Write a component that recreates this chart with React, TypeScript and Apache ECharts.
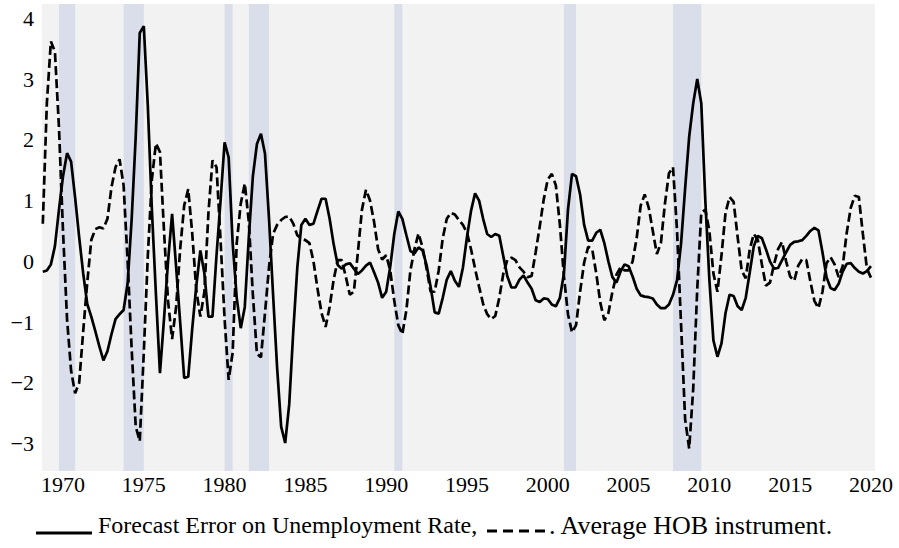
import React, { useEffect, useRef } from "react";
import * as echarts from "echarts";

// Quarterly observations starting 1968Q4 (1968.75), step 0.25 years
const START_YEAR = 1968.75;
const STEP = 0.25;

const forecastError = [
  -0.17,
  -0.15, -0.05, 0.25, 0.85,
  1.4, 1.78, 1.64, 1.05,
  0.4, -0.2, -0.7, -0.91,
  -1.15, -1.4, -1.63, -1.48,
  -1.2, -0.95, -0.87, -0.8,
  -0.36, 0.7, 2.05, 3.76,
  3.87, 2.55, 0.85, -0.54,
  -1.84, -0.95, 0.0, 0.78,
  -0.09, -1.0, -1.92, -1.9,
  -1.1, -0.4, 0.18, -0.2,
  -0.91, -0.91, 0.1, 1.0,
  1.96, 1.71, 0.3, -0.6,
  -1.1, -0.75, 0.4, 1.4,
  1.93, 2.1, 1.77, 0.7,
  -0.55, -1.75, -2.72, -2.99,
  -2.35, -1.15, -0.1, 0.6,
  0.7, 0.6, 0.62, 0.83,
  1.03, 1.03, 0.7, 0.28,
  -0.06, -0.12, -0.05, -0.03,
  -0.12, -0.21, -0.15, -0.07,
  -0.02, -0.18, -0.35, -0.6,
  -0.5, -0.09, 0.45, 0.82,
  0.7, 0.43, 0.17, 0.13,
  0.23, 0.18, -0.06, -0.42,
  -0.84, -0.86, -0.6, -0.3,
  -0.16, -0.32, -0.42, -0.1,
  0.4, 0.83, 1.12, 1.0,
  0.7, 0.45, 0.4, 0.45,
  0.42, 0.08, -0.25, -0.43,
  -0.43, -0.3, -0.23, -0.35,
  -0.45, -0.64, -0.67, -0.61,
  -0.62, -0.71, -0.74, -0.6,
  -0.2, 0.85, 1.44, 1.4,
  1.1, 0.6, 0.34, 0.34,
  0.47, 0.52, 0.3, 0.0,
  -0.26, -0.35, -0.17, -0.05,
  -0.08, -0.25, -0.45, -0.56,
  -0.58, -0.59, -0.61, -0.71,
  -0.77, -0.77, -0.71, -0.55,
  -0.31, 0.3, 1.2, 2.05,
  2.6, 3.0, 2.6, 1.0,
  -0.3, -1.3, -1.57, -1.35,
  -0.85, -0.55, -0.57, -0.74,
  -0.8, -0.6, -0.18, 0.25,
  0.42, 0.38, 0.2, 0.0,
  -0.12, -0.11, 0.02, 0.15,
  0.27, 0.32, 0.33, 0.35,
  0.42, 0.5, 0.55, 0.51,
  0.15, -0.26, -0.44, -0.47,
  -0.37, -0.17, -0.04, -0.03,
  -0.11, -0.17, -0.2, -0.16,
  -0.08,
];

const hobInstrument = [
  0.62,
  2.6, 3.62, 3.45, 2.2,
  0.5, -0.95, -1.8, -2.17,
  -2.0, -1.15, -0.35, 0.35,
  0.53, 0.56, 0.54, 0.7,
  1.22, 1.55, 1.68, 1.25,
  0.0, -1.45, -2.72, -2.96,
  -1.5, 0.1, 1.35, 1.94,
  1.8, 0.5, -0.65, -1.28,
  -0.75, 0.2, 0.92, 1.19,
  0.45, -0.48, -0.91, -0.5,
  0.8, 1.66, 1.55, 0.35,
  -0.95, -1.95, -1.5, 0.3,
  0.95, 1.28, 0.65, -0.55,
  -1.52, -1.58, -0.85, -0.09,
  0.45, 0.6, 0.68, 0.73,
  0.74, 0.62, 0.43, 0.37,
  0.35, 0.3, 0.0, -0.45,
  -0.85, -1.08, -0.75, -0.3,
  0.02, 0.02, -0.25, -0.55,
  -0.5, 0.15, 0.85, 1.18,
  1.0, 0.65, 0.2, 0.03,
  0.1, -0.15, -0.65, -1.05,
  -1.2, -0.8, -0.15, 0.2,
  0.46, 0.23, -0.12, -0.5,
  -0.5, -0.15, 0.38, 0.7,
  0.8, 0.77, 0.68, 0.6,
  0.47, 0.2, -0.12, -0.42,
  -0.7, -0.87, -0.95, -0.9,
  -0.6, -0.2, 0.03, 0.06,
  0.02, -0.1, -0.17, -0.26,
  -0.24, 0.15, 0.57, 1.02,
  1.35, 1.44, 1.25, 0.6,
  -0.25, -0.87, -1.17, -1.05,
  -0.5, -0.02, 0.24, 0.2,
  -0.2, -0.68, -0.97, -0.85,
  -0.5, -0.22, -0.1, -0.15,
  -0.15, 0.0, 0.38, 0.92,
  1.1, 0.88, 0.5, 0.12,
  0.3, 0.95, 1.45, 1.55,
  0.5, -1.05, -2.6, -3.08,
  -2.1, -0.45, 0.8, 0.85,
  0.5, -0.2, -0.5, 0.1,
  0.8, 1.06, 0.98, 0.4,
  -0.15, -0.28, 0.2, 0.45,
  0.35, -0.05, -0.4, -0.35,
  -0.05, 0.2, 0.32, 0.0,
  -0.25, -0.32, -0.07, 0.04,
  0.02, -0.33, -0.65, -0.77,
  -0.5, -0.03, 0.07, -0.05,
  -0.26, -0.08, 0.47, 0.88,
  1.08, 1.06, 0.45, -0.12,
  -0.27,
];

// NBER recessions (start, end) in fractional years
const recessions: [number, number][] = [
  [1969.75, 1970.75],
  [1973.75, 1975.0],
  [1980.0, 1980.5],
  [1981.5, 1982.75],
  [1990.5, 1991.0],
  [2001.0, 2001.75],
  [2007.75, 2009.5],
];

const xTickValues = [1970, 1975, 1980, 1985, 1990, 1995, 2000, 2005, 2010, 2015, 2020];
const yTickValues = [-3, -2, -1, 0, 1, 2, 3, 4];

const legendSolidLabel = "Forecast Error on Unemployment Rate,";
const legendDashedLabel = ". Average HOB instrument.";

const SERIF = "Liberation Serif";

export default function App() {
  const ref = useRef<HTMLDivElement>(null);

  useEffect(() => {
    if (!ref.current) return;
    const chart = echarts.init(ref.current, null, { renderer: "svg" });
    const toPairs = (arr: number[]) => arr.map((v, i) => [START_YEAR + i * STEP, v]);

    chart.setOption({
      animation: false,
      backgroundColor: "#ffffff",
      grid: {
        left: 42,
        right: 24,
        top: 4,
        bottom: 77,
        show: true,
        backgroundColor: "#f2f2f2",
        borderWidth: 0,
      },
      xAxis: {
        type: "value",
        min: 1968.7,
        max: 2020.25,
        axisLine: { show: false },
        axisTick: { show: false },
        splitLine: { show: false },
        axisLabel: {
          customValues: xTickValues,
          formatter: (v: number) => String(v),
          color: "#000",
          fontFamily: SERIF,
          fontSize: 22,
          margin: 2,
        },
      },
      yAxis: {
        type: "value",
        min: -3.45,
        max: 4.235,
        axisLine: { show: false },
        axisTick: { show: false },
        splitLine: { show: false },
        axisLabel: {
          customValues: yTickValues,
          formatter: (v: number) => (v < 0 ? "\u2212" + Math.abs(v) : String(v)),
          color: "#000",
          fontFamily: SERIF,
          fontSize: 22,
          margin: 8,
        },
      },
      series: [
        {
          type: "line",
          data: [],
          silent: true,
          z: 1,
          markArea: {
            silent: true,
            itemStyle: { color: "#d9deea" },
            data: recessions.map(([a, b]) => [{ xAxis: a }, { xAxis: b }]),
          },
        },
        {
          name: "Forecast Error on Unemployment Rate",
          type: "line",
          data: toPairs(forecastError),
          showSymbol: false,
          symbol: "none",
          z: 3,
          lineStyle: { color: "#000", width: 2.7 },
        },
        {
          name: "Average HOB instrument",
          type: "line",
          data: toPairs(hobInstrument),
          showSymbol: false,
          symbol: "none",
          z: 3,
          lineStyle: { color: "#000", width: 2.7, type: [9, 4] },
        },
      ],
      graphic: [
        {
          type: "line",
          shape: { x1: 36, y1: 533, x2: 92, y2: 533 },
          style: { stroke: "#000", lineWidth: 3 },
        },
        {
          type: "text",
          x: 98,
          y: 525,
          style: {
            text: legendSolidLabel,
            fill: "#000",
            fontFamily: SERIF,
            fontSize: 24,
            textAlign: "left",
            textVerticalAlign: "middle",
          },
        },
        {
          type: "line",
          shape: { x1: 487, y1: 531, x2: 548, y2: 531 },
          style: { stroke: "#000", lineWidth: 3, lineDash: [10, 6] },
        },
        {
          type: "text",
          x: 549,
          y: 525,
          style: {
            text: legendDashedLabel,
            fill: "#000",
            fontFamily: SERIF,
            fontSize: 26,
            textAlign: "left",
            textVerticalAlign: "middle",
          },
        },
      ],
    });

    return () => chart.dispose();
  }, []);

  return (
    <div
      ref={ref}
      style={{ position: "fixed", left: 0, top: 0, width: 899, height: 548 }}
    />
  );
}
